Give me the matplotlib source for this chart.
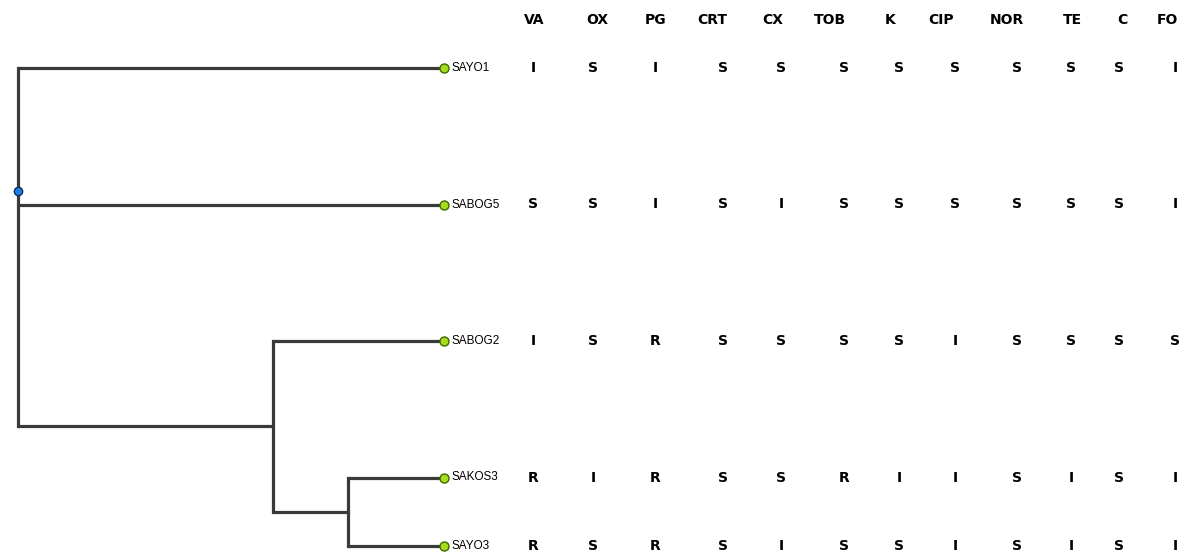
import matplotlib
matplotlib.use("Agg")
import matplotlib.pyplot as plt
from matplotlib import font_manager

# Antibiotic panel and susceptibility calls (S / I / R) per isolate
antibiotics = ["VA", "OX", "PG", "CRT", "CX", "TOB", "K", "CIP", "NOR", "TE", "C", "FO"]
strains = ["SAYO1", "SABOG5", "SABOG2", "SAKOS3", "SAYO3"]
sayo1 = ["I", "S", "I", "S", "S", "S", "S", "S", "S", "S", "S", "I"]
sabog5 = ["S", "S", "I", "S", "I", "S", "S", "S", "S", "S", "S", "I"]
sabog2 = ["I", "S", "R", "S", "S", "S", "S", "I", "S", "S", "S", "S"]
sakos3 = ["R", "I", "R", "S", "S", "R", "I", "I", "S", "I", "S", "I"]
sayo3 = ["R", "S", "R", "S", "I", "S", "S", "I", "S", "I", "S", "I"]
profiles = [sayo1, sabog5, sabog2, sakos3, sayo3]

# Dendrogram: (name, node height, children); leaves sit at the tip height
tip_height = 426
tree = ("root", 0, [
    ("SAYO1", tip_height, []),
    ("SABOG5", tip_height, []),
    ("A", 255, [
        ("SABOG2", tip_height, []),
        ("B", 330, [
            ("SAKOS3", tip_height, []),
            ("SAYO3", tip_height, []),
        ]),
    ]),
])

# ---- layout (pixel space of the canvas) ----
W, H = 1181, 552
x0 = 18                 # root position
row_top, row_step = 68, 136.5
leaf_rows = {"SAYO1": 0, "SABOG5": 1, "SABOG2": 2, "SAKOS3": 3, "SAYO3": 3.5}
root_marker_row = 0.9
header_y = 20
header_x = [534, 597, 656, 712, 773, 830, 890, 941, 1007, 1072, 1122, 1167]
value_x = [533, 593, 655, 723, 781, 844, 899, 955, 1017, 1071, 1119, 1175]

line_col = "#3a3a3a"
lw = 2.3

available = {f.name for f in font_manager.fontManager.ttflist}
narrow = "Liberation Sans Narrow" if "Liberation Sans Narrow" in available else "Liberation Sans"

fig = plt.figure(figsize=(W / 100, H / 100), dpi=100)
ax = fig.add_axes([0, 0, 1, 1])
ax.set_xlim(0, W)
ax.set_ylim(H, 0)
ax.axis("off")


def ypos(row):
    return row_top + row * row_step


def draw(node):
    """Draw a subtree, return (x, y) of its node."""
    name, height, children = node
    x = x0 + height
    if not children:
        y = ypos(leaf_rows[name])
        return x, y
    pts = [draw(c) for c in children]
    ys = [p[1] for p in pts]
    for cx, cy in pts:
        ax.plot([x, cx], [cy, cy], color=line_col, lw=lw, solid_capstyle="butt", zorder=2)
    ax.plot([x, x], [min(ys), max(ys)], color=line_col, lw=lw, solid_capstyle="projecting", zorder=2)
    # internal nodes are placed midway between their last two children
    y = (ys[-2] + ys[-1]) / 2 if name != "root" else ypos(root_marker_row)
    return x, y


rx, ry = draw(tree)
ax.plot(rx, ry, marker="o", ms=6, mfc="#1f7fe0", mec="#0b2d66", mew=1.0, zorder=4)

# leaf markers and labels
for s in strains:
    y = ypos(leaf_rows[s])
    ax.plot(x0 + tip_height, y, marker="o", ms=6.5, mfc="#a6dc1e", mec="#3f6b00",
            mew=1.0, zorder=4)
    ax.text(x0 + tip_height + 7, y, s, fontsize=8.5, family=narrow,
            ha="left", va="center", color="black")

# column headers
for name, hx in zip(antibiotics, header_x):
    ax.text(hx, header_y, name, fontsize=10, fontweight="bold", family="DejaVu Sans",
            ha="center", va="center", color="black")

# susceptibility calls
for s, prof in zip(strains, profiles):
    y = ypos(leaf_rows[s])
    for vx, v in zip(value_x, prof):
        ax.text(vx, y, v, fontsize=10, fontweight="bold", family="DejaVu Sans",
                ha="center", va="center", color="black")

fig.savefig("out.png", dpi=100, facecolor="white")
